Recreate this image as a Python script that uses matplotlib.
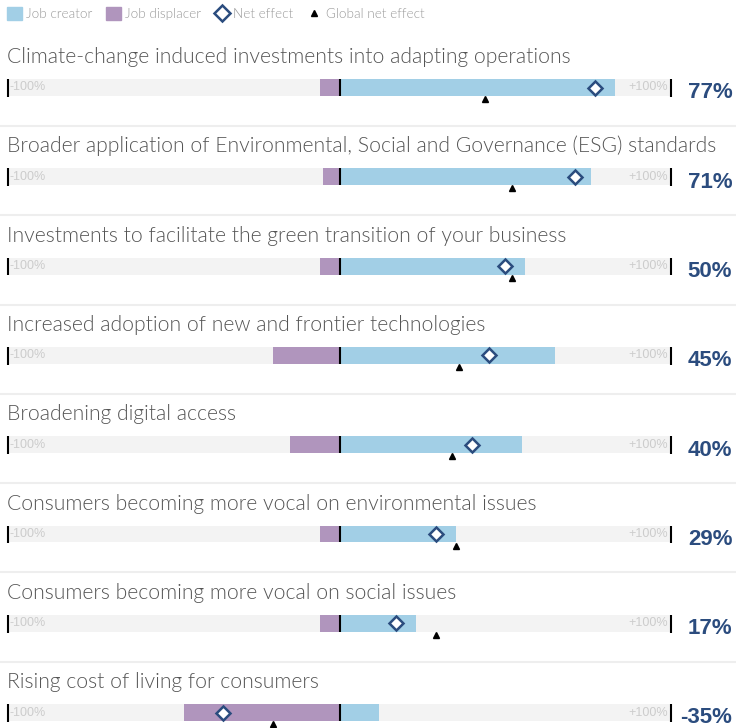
import numpy as np
import matplotlib
matplotlib.use("Agg")
import matplotlib.pyplot as plt
from matplotlib.patches import Patch
from matplotlib.lines import Line2D

# data
drivers = [
    "Climate-change induced investments into adapting operations",
    "Broader application of Environmental, Social and Governance (ESG) standards",
    "Investments to facilitate the green transition of your business",
    "Increased adoption of new and frontier technologies",
    "Broadening digital access",
    "Consumers becoming more vocal on environmental issues",
    "Consumers becoming more vocal on social issues",
    "Rising cost of living for consumers",
]
job_creator = [83, 76, 56, 65, 55, 35, 23, 12]
job_displacer = [-6, -5, -6, -20, -15, -6, -6, -47]
net_effect = [77, 71, 50, 45, 40, 29, 17, -35]
global_net = [44, 52, 52, 36, 34, 35, 29, -20]
net_labels = ["77%", "71%", "50%", "45%", "40%", "29%", "17%", "-35%"]

# colours
c_creator = "#a2cfe6"
c_displacer = "#b095bd"
c_net = "#2b4c7e"
c_bg = "#f3f3f3"
c_title = "#555555"

plt.rcParams['font.family'] = ['Liberation Sans', 'DejaVu Sans']
light = ['Lato', 'DejaVu Sans']

fig = plt.figure(figsize=(7.36, 7.28), dpi=100)
ax = fig.add_axes([0, 0, 1, 1])

# pixel mapping: x_px = 339.5 + 3.315*pct, y_px = 87.5 + 89.3*row
ax.set_xlim((0 - 339.5) / 3.315, (736 - 339.5) / 3.315)
ax.set_ylim((728 - 87.5) / 89.3, (0 - 87.5) / 89.3)
ax.axis('off')

rows = np.arange(len(drivers))
bh = 0.19

# background track
ax.barh(rows, 200, left=-100, height=bh, color=c_bg, zorder=1)
ax.barh(rows, job_creator, left=0, height=bh, color=c_creator, zorder=2)
ax.barh(rows, job_displacer, left=0, height=bh, color=c_displacer, zorder=2)

for i in rows:
    # ticks at -100, 0, +100
    ax.plot([-100, -100], [i - bh / 2, i + bh / 2 + 0.01], color='black', lw=1.5, zorder=3,
            solid_capstyle='butt')
    ax.plot([100, 100], [i - bh / 2, i + bh / 2 + 0.01], color='black', lw=1.5, zorder=3,
            solid_capstyle='butt')
    ax.plot([0, 0], [i - bh / 2, i + bh / 2], color='black', lw=1.5, zorder=3,
            solid_capstyle='butt')
    ax.text(-99.4, i, "-100%", fontsize=9, color='#cccccc', va='center', ha='left', zorder=3)
    ax.text(99.2, i, "+100%", fontsize=9, color='#cccccc', va='center', ha='right', zorder=3)
    ax.text(-100.3, i - 0.274, drivers[i], fontsize=15.2, color=c_title, va='baseline', ha='left',
            family=light, fontweight=300)
    ax.text(118.5, i + 0.06, net_labels[i], fontsize=16, fontweight='bold', color=c_net,
            va='center', ha='right')
    if i < len(drivers) - 1:
        ax.axhline(i + 0.431, color='#eeeeee', lw=1.5, zorder=0)

ax.plot(net_effect, rows, linestyle='none', marker='D', ms=7.5, mfc='white', mec=c_net,
        mew=1.8, zorder=5)
ax.plot(global_net, rows + 0.13, linestyle='none', marker='^', ms=4.5, color='black', zorder=5)

# legend
handles = [
    Patch(color=c_creator, label="Job creator"),
    Patch(color=c_displacer, label="Job displacer"),
    Line2D([], [], linestyle='none', marker='D', ms=8, mfc='white', mec=c_net, mew=1.8,
           label="Net effect"),
    Line2D([], [], linestyle='none', marker='^', ms=4.5, color='black', label="Global net effect"),
]
leg = fig.legend(handles=handles, loc='upper left', bbox_to_anchor=(0.0, 1.0), ncol=4,
                 frameon=False, prop={'family': light, 'weight': 300, 'size': 9.7},
                 labelcolor='#999999', handlelength=1.1, handleheight=1.1, handletextpad=0.3,
                 columnspacing=1.0, borderaxespad=0.15)

fig.savefig("out.png", dpi=100)
